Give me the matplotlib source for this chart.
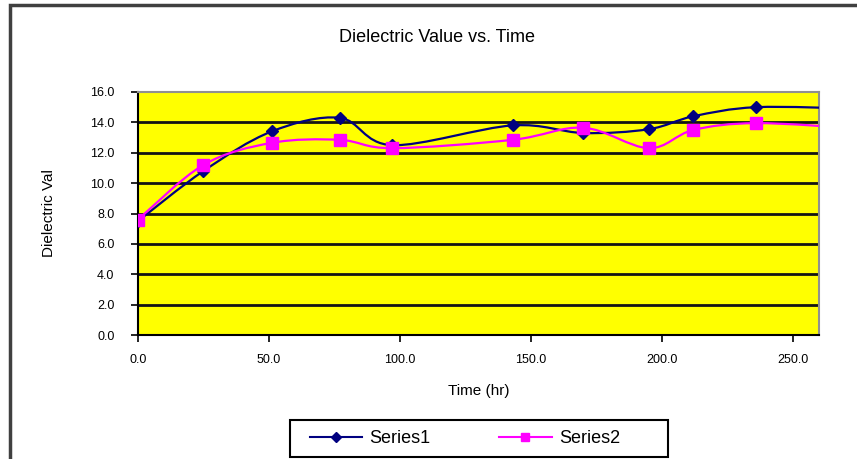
import numpy as np
import matplotlib
matplotlib.use("Agg")
from matplotlib import pyplot as plt
from matplotlib.path import Path
from matplotlib.patches import PathPatch, Rectangle
from matplotlib.lines import Line2D

plt.rcParams['font.family'] = ['Liberation Sans', 'DejaVu Sans']

# time in hours and measured dielectric values
time_hr = [0, 25, 51, 77, 97, 143, 170, 195, 212, 236, 275]
series1 = [7.5, 10.8, 13.4, 14.3, 12.5, 13.8, 13.3, 13.55, 14.4, 15.0, 14.9]
series2 = [7.6, 11.2, 12.65, 12.85, 12.3, 12.85, 13.65, 12.3, 13.5, 13.95, 13.6]

y_ticks = np.arange(0, 17, 2)
x_ticks = np.arange(0, 251, 50)

W, H = 857, 459


def smooth_path(x, y):
    # Catmull-Rom segments turned into cubic beziers, like a spreadsheet "smoothed line"
    pts = np.column_stack([np.asarray(x, float), np.asarray(y, float)])
    verts = [pts[0]]
    codes = [Path.MOVETO]
    n = len(pts)
    for i in range(n - 1):
        p0 = pts[i - 1] if i > 0 else pts[i]
        p1 = pts[i]
        p2 = pts[i + 1]
        p3 = pts[i + 2] if i + 2 < n else pts[i + 1]
        c1 = p1 + (p2 - p0) / 6.0
        c2 = p2 - (p3 - p1) / 6.0
        verts += [c1, c2, p2]
        codes += [Path.CURVE4] * 3
    return Path(verts, codes)


def px_box(x0, y0, x1, y1):
    # pixel box (top-left origin) -> figure fraction rect
    return (x0 / W, 1 - y1 / H), (x1 - x0) / W, (y1 - y0) / H


fig = plt.figure(figsize=(W / 100, H / 100), dpi=100)
fig.patch.set_facecolor('white')

# outer chart border, runs off the right and bottom
xy, w, h = px_box(10, 5, 900, 500)
fig.add_artist(Rectangle(xy, w, h, transform=fig.transFigure, fill=False,
                         edgecolor='#404040', linewidth=2.5))

xy, w, h = px_box(138, 92, 819, 335)
ax = fig.add_axes([xy[0], xy[1], w, h])
ax.set_facecolor('#FFFF00')
ax.set_xlim(0, 260)
ax.set_ylim(0, 16)

for v in y_ticks[1:-1]:
    ax.axhline(v, color='#141414', linewidth=2.0, zorder=1)

for ys, col, mk, ms in [(series1, '#000080', 'D', 6.5),
                        (series2, '#FF00FF', 's', 8)]:
    patch = PathPatch(smooth_path(time_hr, ys), facecolor='none', edgecolor=col,
                      linewidth=1.6, zorder=3, transform=ax.transData)
    ax.add_patch(patch)
    ax.plot(time_hr, ys, linestyle='none', marker=mk, markersize=ms,
            color=col, markeredgecolor=col, zorder=4)

ax.set_xticks(x_ticks)
ax.set_yticks(y_ticks)
ax.set_xticklabels([f"{v:.1f}" for v in x_ticks], fontsize=9)
ax.set_yticklabels([f"{v:.1f}" for v in y_ticks], fontsize=9)
ax.tick_params(axis='both', direction='out', length=5, width=1.2,
               color='black')
ax.tick_params(axis='x', pad=9)
ax.tick_params(axis='y', pad=12)

for side in ['left', 'bottom']:
    ax.spines[side].set_color('black')
    ax.spines[side].set_linewidth(1.5)
for side in ['top', 'right']:
    ax.spines[side].set_color('#909090')
    ax.spines[side].set_linewidth(1.5)

ax.set_xlabel("Time (hr)", fontsize=11)
ax.xaxis.set_label_coords(0.5, -(384 - 335) / 243)
ax.set_ylabel("Dielectric Val", fontsize=11)
ax.yaxis.set_label_coords(-(138 - 56) / 681, 0.5)
fig.text(0.51, 1 - 38 / H, "Dielectric Value vs. Time", fontsize=13,
         ha='center', va='center')

# legend box drawn on its own, entries placed inside it
xy, w, h = px_box(290, 420, 668, 457)
fig.add_artist(Rectangle(xy, w, h, transform=fig.transFigure, fill=False,
                         edgecolor='black', linewidth=1.5))
handles = [Line2D([], [], color='#000080', marker='D', markersize=5, linewidth=1.5),
           Line2D([], [], color='#FF00FF', marker='s', markersize=6, linewidth=1.5)]
fig.legend(handles, ["Series1", "Series2"], loc='center',
           bbox_to_anchor=(465 / W, 1 - 438.5 / H), ncol=2,
           fontsize=13, frameon=False, handlelength=2.9,
           borderpad=0.0, columnspacing=3.8, handletextpad=0.4)

fig.savefig("out.png", dpi=100)
